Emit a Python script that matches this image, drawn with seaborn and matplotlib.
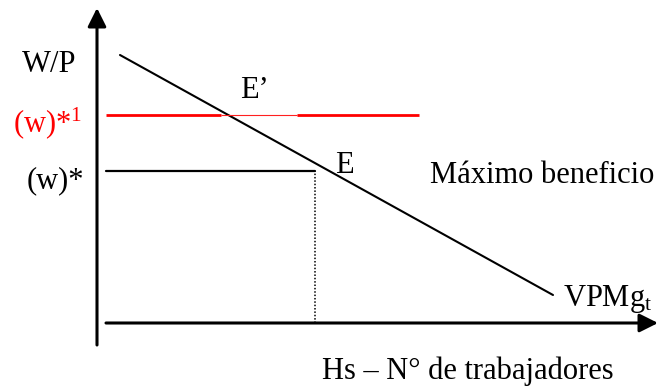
import numpy as np
import pandas as pd
import matplotlib
matplotlib.use("Agg")
import matplotlib.pyplot as plt
import seaborn as sns

# diagram units: origin where the axes meet, 1 unit ~ 10 px
demand_x = [2.3, 45.6]          # VPMg_t line
demand_y = [26.8, 2.8]
w_high = 20.8                   # (w)*1
w_high_x = [0.9, 12.4, 20.0, 32.2]   # thick / thin / thick pieces
w_low = 15.2                    # (w)*
w_low_x = [0.9, 21.8]
n_star = 21.8                   # dotted drop line

x_axis = [0.9, 56.1]
y_axis = [-2.2, 31.5]

labels = {
    "W/P": (-7.5, 25.1, "black"),
    r"(w)*$^{1}$": (-8.4, 19.1, "red"),
    "(w)*": (-7.0, 13.5, "black"),
    "E\u2019": (14.3, 22.5, "black"),
    "E": (23.8, 15.0, "black"),
    "Máximo beneficio": (33.3, 14.0, "black"),
    r"VPMg$_{\mathrm{t}}$": (46.6, 1.7, "black"),
    "Hs \u2013 N° de trabajadores": (22.5, -5.6, "black"),
}

sns.set_theme(style="white")
plt.rcParams['font.family'] = ['Liberation Serif', 'DejaVu Serif']
plt.rcParams['mathtext.fontset'] = 'custom'
plt.rcParams['mathtext.rm'] = 'Liberation Serif'
plt.rcParams['mathtext.it'] = 'Liberation Serif:italic'

fig = plt.figure(figsize=(6.66, 3.87), dpi=100)
ax = fig.add_axes([0, 0, 1, 1])
ax.set_xlim(-9.7, 56.9)
ax.set_ylim(-6.4, 32.3)
ax.axis("off")

# axes with arrow heads
arrow = dict(arrowstyle="-|>", lw=2.2, color="black", mutation_scale=28,
             shrinkA=0, shrinkB=0)
ax.annotate("", xy=(x_axis[1], 0), xytext=(x_axis[0], 0), arrowprops=arrow)
ax.annotate("", xy=(0, y_axis[1]), xytext=(0, y_axis[0]), arrowprops=arrow)

# demand curve
sns.lineplot(x=demand_x, y=demand_y, ax=ax, color="black", lw=1.5)

# wages
ax.hlines(w_high, w_high_x[0], w_high_x[1], color="red", lw=2.0)
ax.hlines(w_high, w_high_x[1], w_high_x[2], color="#ff2020", lw=0.8)
ax.hlines(w_high, w_high_x[2], w_high_x[3], color="red", lw=2.0)
sns.lineplot(x=w_low_x, y=[w_low, w_low], ax=ax, color="black", lw=1.6)
ax.vlines(n_star, 0, w_low, color="black", lw=1.1, linestyles=(0, (1, 1.2)))

for txt, (x, y, c) in labels.items():
    ax.text(x, y, txt, color=c, fontsize=22, ha="left", va="baseline")

fig.savefig("out.png", dpi=100)
